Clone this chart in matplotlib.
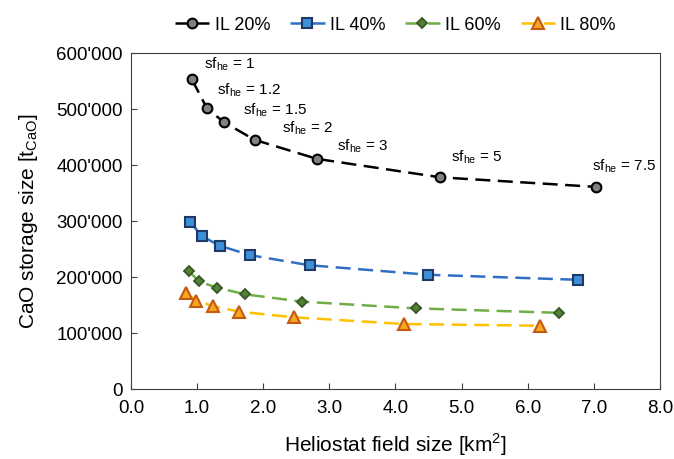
import matplotlib
matplotlib.use("Agg")
import matplotlib.pyplot as plt
from matplotlib.ticker import FuncFormatter, MultipleLocator

plt.rcParams['font.family'] = ['Liberation Sans', 'DejaVu Sans']

# heliostat field size [km2] and CaO storage size [t] per irradiance level
x_il20 = [0.92, 1.15, 1.41, 1.87, 2.81, 4.68, 7.03]
y_il20 = [553000, 501000, 476000, 445000, 411000, 378000, 361000]
x_il40 = [0.89, 1.07, 1.34, 1.80, 2.70, 4.50, 6.76]
y_il40 = [299000, 273000, 256000, 239000, 221000, 204000, 195000]
x_il60 = [0.87, 1.03, 1.30, 1.73, 2.59, 4.31, 6.48]
y_il60 = [211000, 192000, 181000, 169000, 156000, 144000, 136000]
x_il80 = [0.83, 0.99, 1.24, 1.64, 2.47, 4.13, 6.19]
y_il80 = [171000, 158000, 148000, 138000, 128000, 116000, 113000]

sf_labels = ["1", "1.2", "1.5", "2", "3", "5", "7.5"]
sf_x = [1.10, 1.30, 1.69, 2.28, 3.12, 4.84, 6.97]
sf_y = [580000, 534000, 498000, 466000, 434000, 414000, 398000]

fig = plt.figure(figsize=(6.74, 4.59), dpi=100)
ax = fig.add_axes([0.1944, 0.1525, 0.7846, 0.732])

ax.plot(x_il20, y_il20, ls=(0, (6, 3)), color='black', lw=1.8, marker='o', ms=7,
        mfc='#808080', mec='black', mew=1.5, label='IL 20%')
ax.plot(x_il40, y_il40, ls=(0, (6, 3)), color='#2f6fc4', lw=1.8, marker='s', ms=7,
        mfc='#3d8fd8', mec='#1f3864', mew=1.5, label='IL 40%')
ax.plot(x_il60, y_il60, ls=(0, (6, 3)), color='#70ad47', lw=1.8, marker='D', ms=5.5,
        mfc='#548235', mec='#375623', mew=1.3, label='IL 60%')
ax.plot(x_il80, y_il80, ls=(0, (6, 3)), color='#ffc000', lw=1.8, marker='^', ms=8,
        mfc='#f5a623', mec='#c55a11', mew=1.5, label='IL 80%')

for lab, tx, ty in zip(sf_labels, sf_x, sf_y):
    ax.text(tx, ty, r'sf$_{\mathregular{he}}$ = ' + lab, fontsize=11,
            ha='left', va='center')

ax.set_xlim(0, 8)
ax.set_ylim(0, 600000)
ax.xaxis.set_major_locator(MultipleLocator(1))
ax.yaxis.set_major_locator(MultipleLocator(100000))
ax.xaxis.set_major_formatter(FuncFormatter(lambda v, p: f"{v:.1f}"))
ax.yaxis.set_major_formatter(FuncFormatter(lambda v, p: f"{int(v):,}".replace(",", "'")))
ax.tick_params(direction='in', labelsize=13.5, length=4, color='#404040')
ax.tick_params(axis='y', pad=6)
ax.tick_params(axis='x', pad=8)
for s in ax.spines.values():
    s.set_color('#404040')

ax.set_xlabel(r'Heliostat field size [km$^{\mathregular{2}}$]', fontsize=15, labelpad=10)
ax.set_ylabel(r'CaO storage size [t$_{\mathregular{CaO}}$]', fontsize=15, labelpad=12)

ax.legend(loc='lower center', bbox_to_anchor=(0.5, 1.02), ncol=4, frameon=False,
          fontsize=13, handlelength=1.9, columnspacing=1.1, handletextpad=0.3,
          borderaxespad=0.3)

fig.savefig('out.png', dpi=100)
